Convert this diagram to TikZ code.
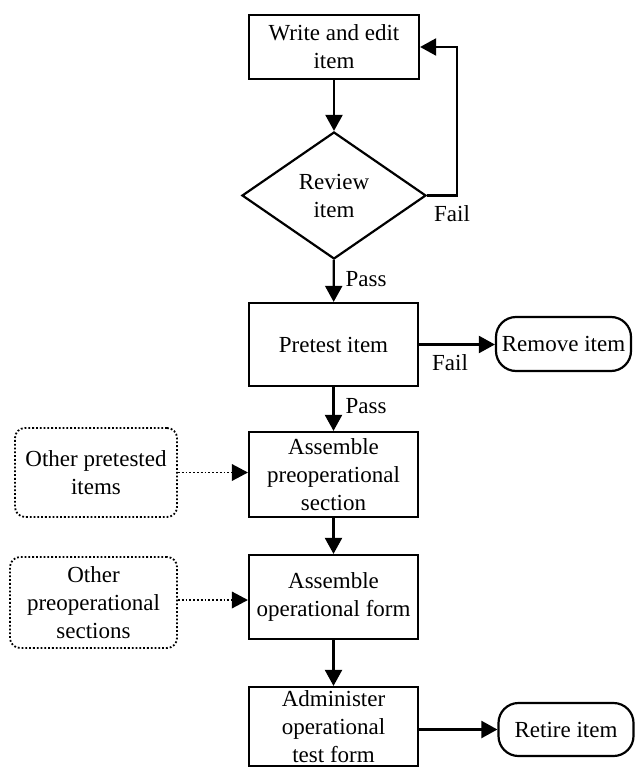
\documentclass[tikz,border=0pt]{standalone}
\usepackage{fontspec}
\setmainfont{Liberation Serif}
\usetikzlibrary{arrows.meta,shapes.geometric}
\begin{document}
\begin{tikzpicture}[x=1pt,y=-1pt,
  every node/.style={font=\fontsize{23}{28}\selectfont, align=center, inner sep=0pt},
  procbox/.style={draw, line width=2.2pt, rectangle},
  termbox/.style={draw, line width=2.2pt, rounded corners=20pt},
  extbox/.style={draw, line width=1.8pt, dotted, rounded corners=10pt},
  lbl/.style={font=\fontsize{23}{28}\selectfont},
  arr/.style={line width=2.2pt, -{Triangle[length=16pt,width=17pt]}},
  darr/.style={line width=1.8pt, dotted, -{Triangle[length=16pt,width=17pt,line width=0pt]}}
]
\useasboundingbox (0,0) rectangle (635,767);
\node[procbox, minimum width=170pt, minimum height=64pt] (write) at (334,47) {Write and edit\\item};
\node[draw, line width=2.2pt, diamond, minimum width=184pt, minimum height=127pt] (review) at (334,195.5) {Review\\item};
\node[procbox, minimum width=169pt, minimum height=83pt] (pretest) at (333.5,344.5) {Pretest item};
\node[termbox, minimum width=135pt, minimum height=54pt] (remove) at (563.5,344) {Remove item};
\node[procbox, minimum width=169pt, minimum height=85pt] (section) at (333.5,474.5) {Assemble\\preoperational\\section};
\node[extbox, minimum width=162pt, minimum height=89pt] (otheritems) at (96,472.5) {Other pretested\\items};
\node[procbox, minimum width=169pt, minimum height=84pt] (form) at (333.5,597) {Assemble\\operational form};
\node[extbox, minimum width=167pt, minimum height=91pt] (othersec) at (93.5,602.5) {Other\\preoperational\\sections};
\node[procbox, minimum width=169pt, minimum height=79pt] (admin) at (333.5,726.5) {Administer\\operational\\test form};
\node[termbox, minimum width=135pt, minimum height=53pt] (retire) at (566,729.5) {Retire item};
\coordinate (loop) at (457,47);
\draw[arr] (write) -- (review);
\draw[arr] (review.east) -| (loop) -- (write.east);
\node[lbl] (fail1) at (452,214) {Fail};
\draw[arr] (review) -- (pretest);
\node[lbl] (pass1) at (366,279) {Pass};
\draw[arr] (pretest.east) -- (remove.west |- pretest.east);
\node[lbl] (fail2) at (450,363) {Fail};
\draw[arr] (pretest) -- (section);
\node[lbl] (pass2) at (366,406) {Pass};
\draw[darr] (otheritems.east) -- (section.west |- otheritems.east);
\draw[arr] (section) -- (form);
\draw[darr] (othersec.east |- 0,600) -- (form.west |- 0,600);
\draw[arr] (form) -- (admin);
\draw[arr] (admin.east |- retire.west) -- (retire.west);
\end{tikzpicture}
\end{document}
